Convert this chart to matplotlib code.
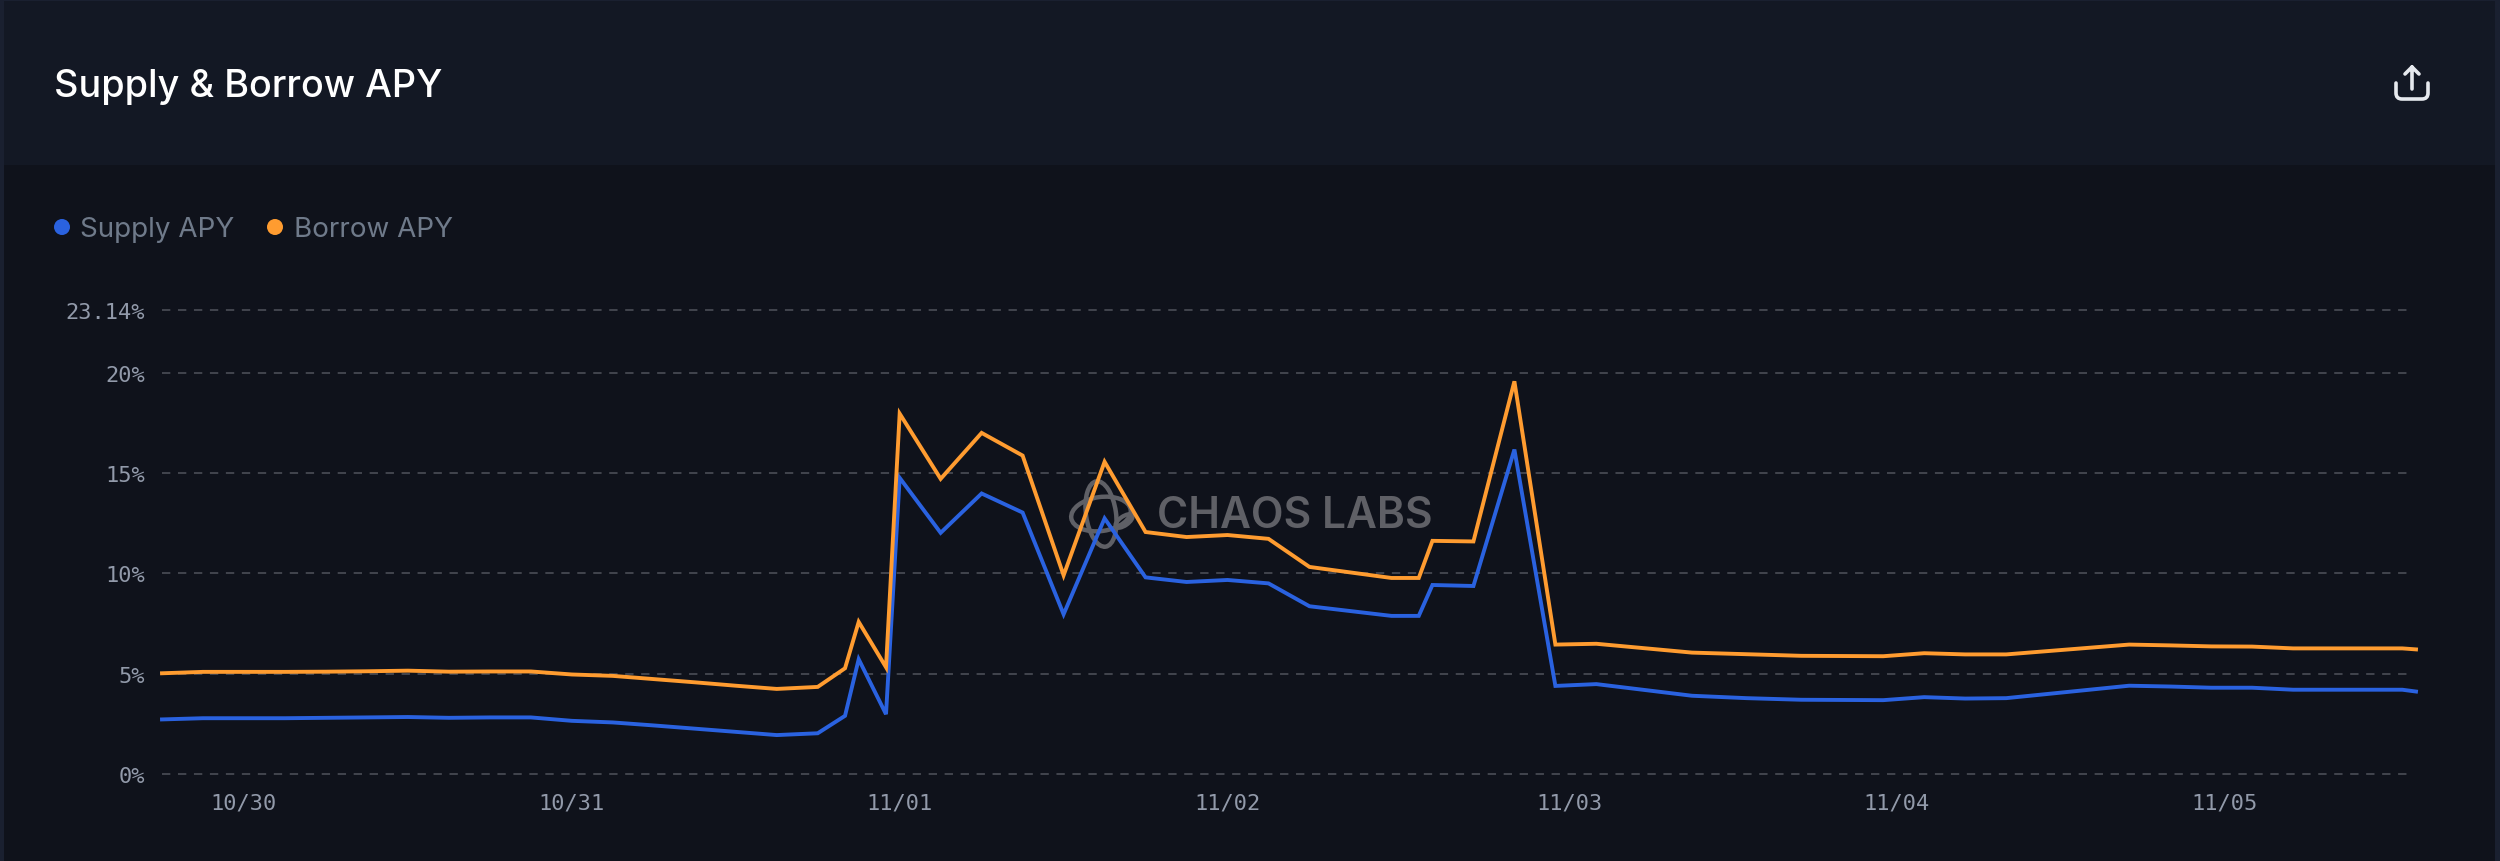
import matplotlib
matplotlib.use('Agg')
import matplotlib.pyplot as plt
from matplotlib.patches import Ellipse, PathPatch, Rectangle
from matplotlib.path import Path

plt.rcParams['lines.scale_dashes'] = False

# hours counted from 10/30 00:00
horas = [-6, -3, 0, 3, 6, 9, 12, 15, 18, 21, 24, 27, 30, 33, 36, 39, 42, 44, 45, 47,
         48, 51, 54, 57, 60, 63, 66, 69, 72, 75, 78, 84, 86, 87, 90, 93, 96, 99, 106,
         110, 114, 120, 123, 126, 129, 138, 141, 144, 147, 150, 158, 159]
supply = [2.72, 2.78, 2.78, 2.78, 2.80, 2.82, 2.84, 2.80, 2.82, 2.82, 2.65, 2.57, 2.42,
          2.26, 2.10, 1.94, 2.03, 2.90, 5.72, 2.98, 14.76, 12.02, 13.98, 13.03, 7.96,
          12.74, 9.80, 9.57, 9.67, 9.50, 8.36, 7.88, 7.88, 9.42, 9.37, 16.17, 4.39,
          4.48, 3.90, 3.78, 3.70, 3.68, 3.83, 3.76, 3.78, 4.40, 4.36, 4.30, 4.30, 4.20,
          4.20, 4.11]
borrow = [5.02, 5.09, 5.09, 5.09, 5.10, 5.12, 5.15, 5.10, 5.11, 5.11, 4.96, 4.89, 4.73,
          4.57, 4.40, 4.24, 4.34, 5.27, 7.58, 5.32, 17.96, 14.71, 17.00, 15.87, 9.90,
          15.56, 12.06, 11.81, 11.91, 11.72, 10.32, 9.77, 9.77, 11.62, 11.59, 19.57,
          6.45, 6.49, 6.05, 5.97, 5.89, 5.87, 6.02, 5.96, 5.96, 6.45, 6.41, 6.36, 6.35,
          6.26, 6.26, 6.21]
xticks_horas = [0, 24, 48, 72, 97, 121, 145]
xticks_labels = ['10/30', '10/31', '11/01', '11/02', '11/03', '11/04', '11/05']
yticks = [0, 5, 10, 15, 20, 23.14]
yticks_labels = ['0%', '5%', '10%', '15%', '20%', '23.14%']

AZUL = '#2a62e0'
LARANJA = '#ff9c30'
FUNDO = '#0f121b'
TOPO = '#131824'
BORDA = '#1a2030'

fig = plt.figure(figsize=(25, 8.62), dpi=100, facecolor=FUNDO)

# background panel, in pixels of the picture
fundo = fig.add_axes([0, 0, 1, 1])
fundo.set_xlim(0, 2500)
fundo.set_ylim(862, 0)
fundo.axis('off')
fundo.add_patch(Rectangle((0, 0), 2500, 166, color=TOPO, lw=0))
fundo.add_patch(Rectangle((0, 0), 2500, 2, color=BORDA, lw=0))
fundo.add_patch(Rectangle((0, 0), 4, 862, color=BORDA, lw=0))
fundo.add_patch(Rectangle((2495, 0), 5, 862, color=BORDA, lw=0))

fundo.text(54, 87, 'Supply & Borrow APY', color='white', fontsize=27.2, family='Inter',
           weight='medium', va='center', ha='left')

# legend
fundo.add_patch(Ellipse((62, 228), 16, 16, color=AZUL, lw=0))
fundo.text(80, 230, 'Supply APY', color='#6f7a8a', fontsize=20, family='Inter', va='center')
fundo.add_patch(Ellipse((275, 228), 16, 16, color=LARANJA, lw=0))
fundo.text(294, 230, 'Borrow APY', color='#6f7a8a', fontsize=20, family='Inter', va='center')

# share icon
cor_icone = '#e6e9ee'
seta = Path([(2412, 90), (2412, 68), (2405, 75), (2412, 68), (2419, 75)],
            [Path.MOVETO, Path.LINETO, Path.MOVETO, Path.LINETO, Path.LINETO])
bandeja = Path([(2396, 84), (2396, 94), (2396, 100), (2402, 100), (2422, 100), (2428, 100),
                (2428, 94), (2428, 84)],
               [Path.MOVETO, Path.LINETO, Path.CURVE3, Path.CURVE3, Path.LINETO, Path.CURVE3,
                Path.CURVE3, Path.LINETO])
for p in (seta, bandeja):
    fundo.add_patch(PathPatch(p, fc='none', ec=cor_icone, lw=2.6, capstyle='round', joinstyle='round'))

# watermark
cor_marca = '#5f6066'
fundo.text(1157, 517, 'CHAOS LABS', color=cor_marca, fontsize=30.6, family='Inter', weight='semibold',
           va='center', ha='left')
fundo.add_patch(Ellipse((1101, 515), 60, 34, angle=-8, fc='none', ec=cor_marca, lw=3.2))
fundo.add_patch(Ellipse((1101, 515), 30, 66, angle=-8, fc='none', ec=cor_marca, lw=3.2))
fundo.add_patch(Ellipse((1124, 522), 20, 9, angle=-35, fc='none', ec=cor_marca, lw=3))

# chart
ax = fig.add_axes([162 / 2500, (862 - 775) / 862, (2416 - 162) / 2500, (775 - 310.7) / 862])
ax.patch.set_alpha(0)
ax.hlines(yticks, -6, 158.8, color='#50535b', lw=1.1, linestyle=(0, (6, 5.5)), clip_on=False, zorder=1)
ax.plot(horas, supply, color=AZUL, lw=2.8, solid_joinstyle='miter', clip_on=False, zorder=3)
ax.plot(horas, borrow, color=LARANJA, lw=2.8, solid_joinstyle='miter', clip_on=False, zorder=4)
ax.set_xlim(-6, 159)
ax.set_ylim(0, 23.14)
ax.set_xticks(xticks_horas)
ax.set_xticklabels(xticks_labels)
ax.set_yticks(yticks)
ax.set_yticklabels(yticks_labels)
ax.tick_params(axis='both', length=0, colors='#929aaa', labelsize=15.8)
ax.tick_params(axis='x', pad=13)
ax.tick_params(axis='y', pad=12)
for t in ax.get_xticklabels() + ax.get_yticklabels():
    t.set_family('DejaVu Sans Mono')
ax.grid(False)
for lado in ax.spines.values():
    lado.set_visible(False)

fig.savefig('out.png', dpi=100, facecolor=FUNDO)
